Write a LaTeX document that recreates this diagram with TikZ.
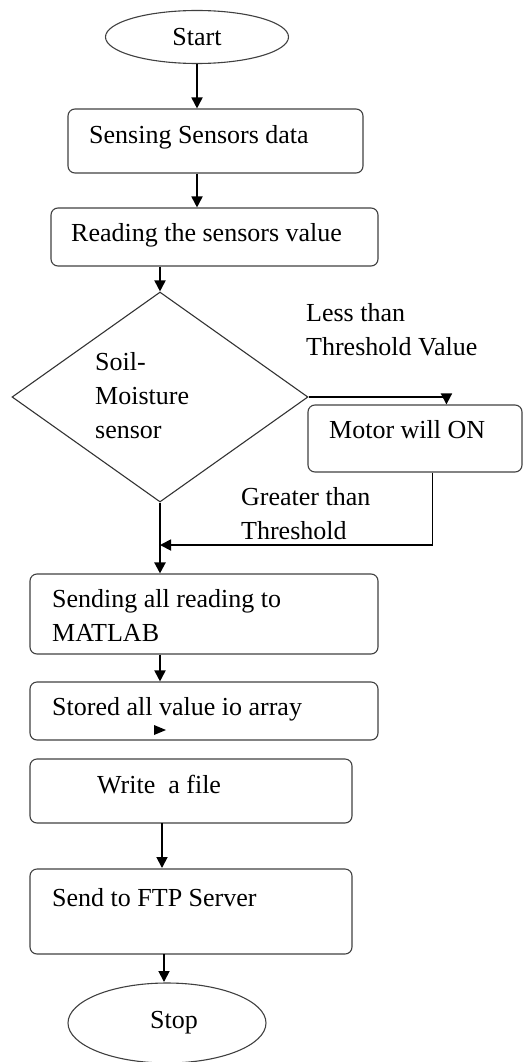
\documentclass[tikz,border=0pt]{standalone}
\usepackage{fontspec}
\setmainfont{Liberation Serif}
\usetikzlibrary{shapes.geometric,arrows.meta,calc}
\tikzset{
  boxnode/.style={draw=black!75, line width=1.1pt, rounded corners=7pt, rectangle, inner sep=0pt},
  ovalnode/.style={draw=black!75, line width=1.1pt, ellipse, inner sep=0pt},
  decnode/.style={draw=black!80, line width=1.1pt, diamond, inner sep=0pt},
  txt/.style={inner sep=0pt, font=\fontsize{26}{34}\selectfont, text=black},
  mtxt/.style={txt, align=left, anchor=north west},
  flow/.style={draw=black, line width=1.8pt, -{Triangle[length=11pt,width=11pt]}},
}
\begin{document}
\begin{tikzpicture}[x=1pt,y=-1pt]
\useasboundingbox (0,0) rectangle (528,1062);
% shapes
\node[ovalnode, minimum width=183pt, minimum height=53pt, txt] (start) at (197,37) {Start};
\node[boxnode, minimum width=295pt, minimum height=64pt] (b1) at (215.5,141) {};
\node[boxnode, minimum width=327pt, minimum height=58pt] (b2) at (214.5,237) {};
\node[decnode, minimum width=296pt, minimum height=210pt] (dec) at (160,397) {};
\node[boxnode, minimum width=214pt, minimum height=67pt] (motor) at (415,438.5) {};
\node[boxnode, minimum width=348pt, minimum height=80pt] (send) at (204,614) {};
\node[boxnode, minimum width=348pt, minimum height=58pt] (stored) at (204,711) {};
\node[boxnode, minimum width=322pt, minimum height=64pt] (write) at (191,791) {};
\node[boxnode, minimum width=322pt, minimum height=85pt] (ftp) at (191,911.5) {};
\node[ovalnode, minimum width=198pt, minimum height=80pt, txt] (stop) at (167,1023) {\hspace*{14pt}Stop};
% texts
\node[txt, anchor=base west] (t1) at (89,143) {Sensing Sensors data};
\node[txt, anchor=base west] (t2) at (71,241) {Reading the sensors value};
\node[mtxt] (tdec) at (95,352) {Soil-\\Moisture\\sensor};
\node[mtxt] (tless) at (306,303) {Less than\\Threshold Value};
\node[txt, anchor=base west] (tmotor) at (329,438) {Motor will ON};
\node[mtxt] (tgreat) at (241,487) {Greater than\\Threshold};
\node[mtxt] (tsend) at (52,589) {Sending all reading to\\MATLAB};
\node[txt, anchor=base west] (tstored) at (52,715) {Stored all value io array};
\node[txt, anchor=base west] (twrite) at (97,793) {Write\ \ a file};
\node[txt, anchor=base west] (tftp) at (52,906) {Send to FTP Server};
% helper coordinates
\coordinate (mIn) at ($(motor.north west)+(139,0)$);
\coordinate (mOut) at ($(motor.south west)+(125,0)$);
\coordinate (join) at (160,545);
% connectors
\draw[flow] (start.south) -- (start.south |- b1.north);
\draw[flow] (start.south |- b1.south) -- (start.south |- b2.north);
\draw[flow] (dec.north |- b2.south) -- (dec.north);
\draw[flow] (dec.east) -| (mIn);
\draw[flow] (mOut) |- (join);
\draw[flow, line width=2.2pt] (dec.south) -- (dec.south |- send.north);
\draw[flow] (dec.south |- send.south) -- (dec.south |- stored.north);
\draw[flow] (162,823) -- (162,868);
\draw[flow] (164,954) -- (164,982);
% stray arrowhead inside the stored box
\fill[black] (154,725) -- (166,730) -- (154,735) -- cycle;
\end{tikzpicture}
\end{document}
